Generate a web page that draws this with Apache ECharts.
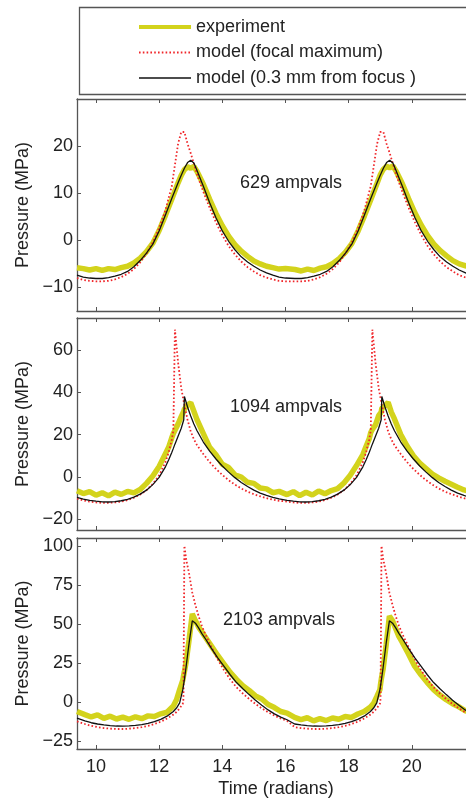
<!DOCTYPE html>
<html>
<head>
<meta charset="utf-8">
<script src="https://cdn.jsdelivr.net/npm/echarts@6/dist/echarts.min.js"></script>
<style>
  html, body { margin: 0; padding: 0; background: #fff; }
  #chart { width: 466px; height: 806px; }
</style>
</head>
<body>
<div id="chart"></div>
<script>
// legend names
const names = ['experiment', 'model (focal maximum)', 'model (0.3 mm from focus )'];
const notes = ['629 ampvals', '1094 ampvals', '2103 ampvals'];

// axis ticks
const timeTicks = [10, 12, 14, 16, 18, 20, 22];
const timeLabels = [10, 12, 14, 16, 18, 20];
const pTicks1 = [-10, 0, 10, 20];
const pTicks2 = [-20, 0, 20, 40, 60];
const pTicks3 = [-25, 0, 25, 50, 75, 100];

// ---- panel 1 (629 ampvals)
const time1 = [9.4, 9.6, 9.8, 10.0, 10.2, 10.4, 10.6, 10.8, 11.0, 11.2, 11.4, 11.6, 11.8, 12.0, 12.2, 12.4, 12.6,
  12.7, 12.8, 12.9, 13.0, 13.1, 13.2,
  13.4, 13.6, 13.8, 14.0, 14.2, 14.4, 14.6, 14.8, 15.0, 15.2, 15.4, 15.6, 15.8, 16.0,
  16.3, 16.5, 16.7, 16.9, 17.1, 17.3, 17.5, 17.7, 17.9, 18.1, 18.3, 18.5, 18.7, 18.9,
  19.0, 19.1, 19.2, 19.3, 19.4, 19.5,
  19.7, 19.9, 20.1, 20.3, 20.5, 20.7, 20.9, 21.1, 21.3, 21.5, 21.7, 21.9, 22.1];
const exp1 = [-5.8, -6.0, -6.3, -6.0, -6.4, -6.0, -6.2, -5.8, -5.5, -4.8, -3.8, -2.4, -0.6, 2.1, 5.3, 8.7, 12.2,
  13.8, 15.0, 15.6, 15.3, 15.7, 14.6,
  11.9, 8.7, 5.7, 3.1, 0.9, -0.9, -2.3, -3.4, -4.4, -5.0, -5.5, -5.8, -6.1, -6.0,
  -6.2, -6.5, -6.1, -6.4, -5.9, -5.6, -4.9, -3.9, -2.5, -0.7, 2.0, 5.2, 8.6, 12.1,
  13.9, 15.1, 15.7, 15.4, 15.8, 14.7,
  12.0, 8.8, 5.8, 3.2, 1.0, -0.8, -2.2, -3.3, -4.3, -5.0, -5.4, -5.8, -6.0];
const focal1 = [-8.0, -8.4, -8.6, -8.7, -8.7, -8.6, -8.3, -7.8, -7.1, -6.1, -4.7, -2.8, -0.4, 2.6, 6.4, 11.5, 20.5,
  23.0, 23.0, 20.5, 18.5, 16.3, 14.0,
  10.3, 6.9, 3.8, 1.1, -1.2, -3.0, -4.5, -5.7, -6.6, -7.4, -7.9, -8.3, -8.6, -8.7,
  -8.7, -8.7, -8.6, -8.3, -7.8, -7.1, -6.1, -4.7, -2.8, -0.4, 2.6, 6.4, 11.5, 20.5,
  23.0, 23.0, 20.5, 18.5, 16.3, 14.0,
  10.3, 6.9, 3.8, 1.1, -1.2, -3.0, -4.5, -5.7, -6.6, -7.4, -7.9, -8.3, -8.6];
const near1 = [-7.4, -7.8, -8.0, -8.1, -8.1, -7.9, -7.6, -7.2, -6.6, -5.6, -4.3, -2.7, -0.8, 2.0, 5.4, 8.9, 12.2,
  13.8, 15.3, 16.5, 17.0, 16.4, 14.8,
  11.5, 8.0, 4.8, 2.0, -0.2, -2.0, -3.5, -4.6, -5.5, -6.3, -6.9, -7.4, -7.8, -8.0,
  -8.1, -8.1, -7.9, -7.6, -7.2, -6.6, -5.6, -4.3, -2.7, -0.8, 2.0, 5.4, 8.9, 12.2,
  13.8, 15.3, 16.5, 17.0, 16.4, 14.8,
  11.5, 8.0, 4.8, 2.0, -0.2, -2.0, -3.5, -4.6, -5.5, -6.3, -6.9, -7.4, -7.8];

// ---- panel 2 (1094 ampvals)
const time2 = [9.4, 9.6, 9.8, 10.0, 10.2, 10.4, 10.6, 10.8, 11.0, 11.2, 11.4, 11.6, 11.8, 12.0, 12.2,
  12.3, 12.4, 12.45, 12.5, 12.6, 12.7, 12.78, 12.8, 12.9, 13.0, 13.1, 13.2,
  13.4, 13.6, 13.8, 14.0, 14.2, 14.4, 14.6, 14.8, 15.0, 15.2, 15.4, 15.6, 15.8,
  16.05, 16.25, 16.45, 16.65, 16.85, 17.05, 17.25, 17.45, 17.65, 17.85, 18.05, 18.25, 18.45,
  18.55, 18.65, 18.7, 18.75, 18.85, 18.95, 19.03, 19.05, 19.15, 19.25, 19.35, 19.45,
  19.65, 19.85, 20.05, 20.25, 20.45, 20.65, 20.85, 21.05, 21.25, 21.45, 21.65, 21.85, 22.05];
const exp2 = [-6.5, -7.8, -6.9, -8.6, -7.4, -8.9, -7.1, -8.2, -6.8, -7.5, -5.9, -3.0, 0.5, 5.0, 11.0,
  14.0, 18.5, 20.5, 22.0, 25.0, 28.5, 31.0, 32.0, 34.0, 35.0, 31.0, 27.0,
  20.5, 14.0, 10.5, 6.0, 4.5, 1.0, 0.0, -2.5, -3.0, -5.2, -5.6, -7.4, -6.8,
  -8.3, -6.9, -8.8, -7.2, -8.5, -6.6, -7.9, -6.4, -5.5, -2.8, 0.8, 5.4, 10.6,
  14.4, 18.0, 21.0, 22.4, 24.6, 29.0, 30.6, 32.4, 33.6, 35.2, 30.6, 27.4,
  20.0, 14.6, 10.0, 6.6, 4.0, 1.4, -0.4, -2.0, -3.4, -4.8, -6.1, -6.9, -7.8];
const focal2 = [-10.2, -11.0, -11.6, -12.0, -12.2, -12.2, -12.0, -11.6, -10.9, -9.8, -8.3, -6.2, -3.3, 0.8, 7.0,
  11.5, 17.5, 22.0, 69.5, 54.0, 42.0, 35.5, 34.0, 27.0, 21.5, 17.8, 15.0,
  10.8, 7.0, 3.8, 1.0, -1.5, -3.6, -5.4, -6.9, -8.1, -9.1, -10.0, -10.7, -11.2,
  -11.6, -12.0, -12.2, -12.2, -12.0, -11.6, -10.9, -9.8, -8.3, -6.2, -3.3, 0.8, 7.0,
  11.5, 17.5, 22.0, 69.5, 54.0, 42.0, 35.5, 34.0, 27.0, 21.5, 17.8, 15.0,
  10.8, 7.0, 3.8, 1.0, -1.5, -3.6, -5.4, -6.9, -8.1, -9.1, -10.0, -10.7, -11.2];
const near2 = [-9.6, -10.4, -11.0, -11.4, -11.7, -11.8, -11.6, -11.2, -10.5, -9.5, -8.1, -6.2, -3.6, -0.2, 4.8,
  8.0, 11.6, 13.5, 15.5, 19.2, 23.0, 27.0, 38.0, 33.0, 28.8, 25.0, 21.8,
  16.5, 12.2, 8.5, 5.2, 2.3, -0.3, -2.6, -4.5, -6.2, -7.6, -8.7, -9.6, -10.3,
  -11.0, -11.4, -11.7, -11.8, -11.6, -11.2, -10.5, -9.5, -8.1, -6.2, -3.6, -0.2, 4.8,
  8.0, 11.6, 13.5, 15.5, 19.2, 23.0, 27.0, 38.0, 33.0, 28.8, 25.0, 21.8,
  16.5, 12.2, 8.5, 5.2, 2.3, -0.3, -2.6, -4.5, -6.2, -7.6, -8.7, -9.6, -10.3];

// ---- panel 3 (2103 ampvals)
const time3 = [9.4, 9.65, 9.85, 10.05, 10.25, 10.45, 10.65, 10.85, 11.05, 11.25, 11.45, 11.65, 11.85, 12.05, 12.25, 12.45,
  12.55, 12.65, 12.75, 12.77, 12.8, 12.85, 12.95, 13.05, 13.15, 13.25, 13.35, 13.45,
  13.65, 13.85, 14.05, 14.25, 14.45, 14.65, 14.85, 15.05, 15.25, 15.45, 15.65, 15.85, 16.05,
  16.29, 16.49, 16.69, 16.89, 17.09, 17.29, 17.49, 17.69, 17.89, 18.09, 18.29, 18.49, 18.69,
  18.79, 18.89, 18.99, 19.01, 19.04, 19.09, 19.19, 19.29, 19.39, 19.49, 19.59, 19.69,
  19.89, 20.09, 20.29, 20.49, 20.69, 20.89, 21.09, 21.29, 21.49, 21.69, 21.89, 22.09];
const exp3 = [-6.0, -8.0, -9.5, -8.2, -10.4, -9.0, -10.8, -9.6, -11.0, -9.4, -10.6, -8.8, -9.2, -7.5, -6.5, -2.5,
  1.5, 8.0, 14.0, 16.5, 19.5, 25.0, 40.0, 56.5, 52.0, 48.0, 45.0, 42.0,
  36.0, 30.0, 24.5, 19.0, 14.5, 10.5, 7.5, 4.0, 2.0, -1.5, -3.5, -6.0, -7.0,
  -9.8, -11.2, -10.0, -12.0, -10.6, -11.8, -10.2, -11.0, -9.2, -9.8, -7.6, -6.0, -3.2,
  -0.8, 3.5, 8.0, 11.5, 15.5, 21.0, 37.0, 55.0, 52.0, 47.0, 42.0, 38.5,
  31.0, 23.0, 17.5, 12.5, 8.0, 4.5, 1.5, -1.0, -3.0, -5.5, -6.5, -8.0];
const focal3 = [-12.3, -14.0, -15.2, -16.0, -16.6, -17.0, -17.2, -17.2, -17.0, -16.6, -16.0, -15.2, -14.0, -12.5, -10.5, -8.0,
  -6.3, -4.0, -1.0, 2.0, 100.0, 92.0, 82.0, 70.0, 62.0, 55.0, 49.0, 44.0,
  35.5, 27.5, 20.5, 14.5, 9.5, 5.5, 2.0, -1.2, -4.0, -6.5, -8.6, -10.5, -12.0,
  -16.0, -16.6, -17.0, -17.2, -17.2, -17.0, -16.6, -16.0, -15.2, -14.0, -12.5, -10.5, -8.0,
  -6.3, -4.0, -1.0, 2.0, 100.0, 92.0, 82.0, 70.0, 62.0, 55.0, 49.0, 44.0,
  35.5, 27.5, 20.5, 14.5, 9.5, 5.5, 2.0, -1.2, -4.0, -6.5, -8.6, -10.5];
const near3 = [-10.2, -12.0, -13.2, -14.0, -14.6, -15.0, -15.3, -15.4, -15.2, -14.9, -14.4, -13.6, -12.5, -11.0, -9.0, -6.0,
  -3.8, -0.5, 8.0, 10.5, 14.5, 22.0, 38.0, 52.0, 50.5, 47.5, 44.0, 41.0,
  34.5, 28.5, 23.0, 17.5, 12.5, 8.5, 4.8, 1.2, -2.0, -5.0, -7.5, -9.6, -11.3,
  -14.0, -14.6, -15.0, -15.3, -15.4, -15.2, -14.9, -14.4, -13.6, -12.5, -11.0, -9.0, -6.0,
  -3.8, -0.5, 8.0, 10.5, 14.5, 22.0, 38.0, 52.0, 50.5, 47.5, 44.0, 41.0,
  34.5, 28.5, 23.0, 17.5, 12.5, 8.5, 4.8, 1.2, -2.0, -5.0, -7.5, -9.6];

const panels = [
  { time: time1, exp: exp1, focal: focal1, near: near1, min: -15, max: 30, ticks: pTicks1 },
  { time: time2, exp: exp2, focal: focal2, near: near2, min: -25, max: 75, ticks: pTicks2 },
  { time: time3, exp: exp3, focal: focal3, near: near3, min: -30, max: 105, ticks: pTicks3 }
];

const FONT = '"Liberation Sans", Arial, Helvetica, sans-serif';
const TEXT = '#222';
const AXIS = '#555';
const YELLOW = '#d3d31c';
const RED = '#f0262a';

const gridTops = [99, 318, 538];
const gridHeights = [212, 212, 211];

function pairs(t, v) {
  return t.map((x, i) => [x, v[i]]);
}

const grid = [], xAxis = [], yAxis = [], series = [];

panels.forEach((p, i) => {
  grid.push({ left: 77, top: gridTops[i], width: 398, height: gridHeights[i], outerBoundsMode: 'none' });

  const tickStyle = { show: true, inside: true, length: 4, lineStyle: { color: AXIS, width: 1 } };
  // bottom time axis
  xAxis.push({
    type: 'value', gridIndex: i, min: 9.4, max: 22, position: 'bottom',
    axisLine: { show: true, onZero: false, lineStyle: { color: AXIS, width: 1.3 } },
    axisTick: Object.assign({ customValues: timeTicks }, tickStyle),
    axisLabel: {
      show: i === 2, customValues: timeLabels, color: TEXT, fontSize: 18, fontFamily: FONT, margin: 9
    },
    splitLine: { show: false },
    name: i === 2 ? 'Time (radians)' : '',
    nameLocation: 'middle', nameGap: 31,
    nameTextStyle: { color: TEXT, fontSize: 18, fontFamily: FONT }
  });
  // top frame with ticks
  xAxis.push({
    type: 'value', gridIndex: i, min: 9.4, max: 22, position: 'top',
    axisLine: { show: true, onZero: false, lineStyle: { color: AXIS, width: 1.3 } },
    axisTick: Object.assign({ customValues: timeTicks }, tickStyle),
    axisLabel: { show: false },
    splitLine: { show: false }
  });
  yAxis.push({
    type: 'value', gridIndex: i, min: p.min, max: p.max,
    axisLine: { show: true, onZero: false, lineStyle: { color: AXIS, width: 1.3 } },
    axisTick: Object.assign({ customValues: p.ticks }, tickStyle),
    axisLabel: {
      customValues: p.ticks, color: TEXT, fontSize: 18, fontFamily: FONT, margin: 4,
      formatter: v => String(v).replace('-', '\u2212')
    },
    splitLine: { show: false },
    name: 'Pressure (MPa)', nameLocation: 'middle', nameGap: 45,
    nameTextStyle: { color: TEXT, fontSize: 18, fontFamily: FONT }
  });

  const xi = i * 2;
  series.push({
    name: names[0], type: 'line', xAxisIndex: xi, yAxisIndex: i, symbol: 'none', z: 2,
    data: pairs(p.time, p.exp),
    lineStyle: { color: YELLOW, width: 5.5 }, itemStyle: { color: YELLOW }
  });
  series.push({
    name: names[1], type: 'line', xAxisIndex: xi, yAxisIndex: i, symbol: 'none', z: 3,
    data: pairs(p.time, p.focal),
    lineStyle: { color: RED, width: 1.8, type: [1.6, 2.2] }, itemStyle: { color: RED }
  });
  series.push({
    name: names[2], type: 'line', xAxisIndex: xi, yAxisIndex: i, symbol: 'none', z: 4,
    data: pairs(p.time, p.near),
    lineStyle: { color: '#111', width: 1.3 }, itemStyle: { color: '#111' }
  });
});

const noteTops = [183, 407, 620];
const noteLefts = [240, 230, 223];

const chart = echarts.init(document.getElementById('chart'), null, { renderer: 'canvas' });
chart.setOption({
  animation: false,
  backgroundColor: '#fff',
  grid, xAxis, yAxis, series,
  legend: {
    data: [
      { name: names[0], itemStyle: { opacity: 0 }, lineStyle: { width: 4, color: YELLOW } },
      { name: names[1], itemStyle: { opacity: 0 }, lineStyle: { width: 1.8, color: RED, type: [1.6, 2.2] } },
      { name: names[2], itemStyle: { opacity: 0 }, lineStyle: { width: 1.3, color: '#111' } }
    ],
    orient: 'vertical', left: 132, top: 13,
    itemWidth: 52, itemHeight: 14, itemGap: 7.5,
    textStyle: { color: TEXT, fontSize: 18, fontFamily: FONT, lineHeight: 18 },
    selectedMode: false
  },
  graphic: [
    {
      type: 'rect', left: 77, top: 5, z: -1, silent: true,
      shape: { width: 420, height: 87 },
      style: { fill: 'none', stroke: AXIS, lineWidth: 1.3 }
    }
  ].concat(notes.map((t, i) => ({
    type: 'text', x: noteLefts[i], y: noteTops[i], silent: true,
    style: { text: t, fill: TEXT, font: '18px ' + FONT, verticalAlign: 'middle' }
  })))
});
</script>
</body>
</html>
